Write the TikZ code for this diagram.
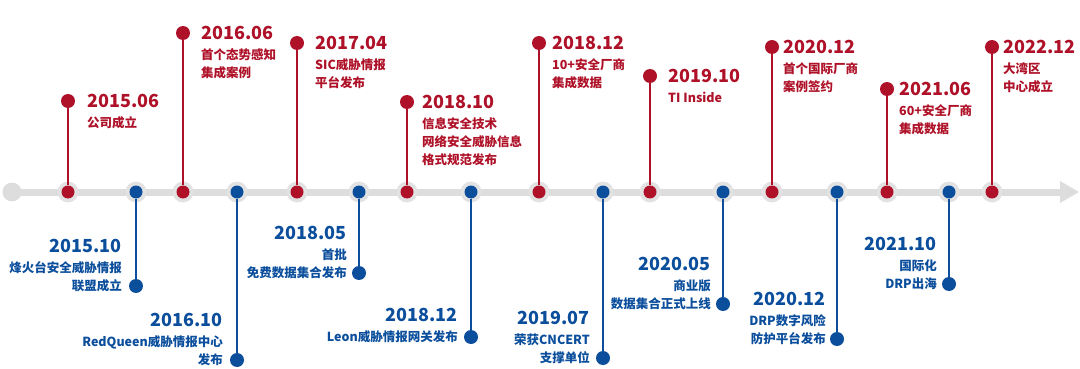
\documentclass[tikz,border=0pt]{standalone}
\usepackage{fontspec}
\setmainfont{Noto Sans CJK SC}
\usetikzlibrary{calc}
\definecolor{myred}{HTML}{AE1128}
\definecolor{myblue}{HTML}{0B4E9C}
\definecolor{axisgray}{HTML}{DDDDDD}
\definecolor{halogray}{HTML}{E2E2E2}
\tikzset{
  axisline/.style={draw=axisgray, line width=7pt},
  halo/.style={circle, fill=halogray, minimum size=21pt, inner sep=0pt},
  rdot/.style={circle, fill=myred, minimum size=13pt, inner sep=0pt},
  bdot/.style={circle, fill=myblue, minimum size=13pt, inner sep=0pt},
  rstem/.style={draw=myred, line width=2pt},
  bstem/.style={draw=myblue, line width=2pt},
  datefont/.style={font=\bfseries\fontsize{18}{18}\selectfont, inner sep=0pt},
  linefont/.style={font=\bfseries\fontsize{12.5}{12.5}\selectfont, inner sep=0pt},
  rdate/.style={datefont, text=myred, anchor=base west},
  rtext/.style={linefont, text=myred, anchor=base west},
  bdate/.style={datefont, text=myblue, anchor=base east},
  btext/.style={linefont, text=myblue, anchor=base east},
}
% red event: name, x, y of top dot, text left x, date, lines
\newcommand\RedEvent[6]{%
  \node[halo] (#1h) at (#2,192) {};
  \node[rdot] (#1a) at (#2,192) {};
  \node[rdot, minimum size=14pt] (#1t) at (#2,#3) {};
  \draw[rstem] (#1t) -- (#1a);
  \node[rdate] (#1d) at (#4,#3+6.2) {#5};
  \foreach \l [count=\i] in {#6}
    \node[rtext] (#1l\i) at (#4,#3+4.75+22+18*\i-18) {\l};
}
% blue event: name, x, y of bottom dot, text right x, date, number of lines, lines
\newcommand\BlueEvent[7]{%
  \node[halo] (#1h) at (#2,192) {};
  \node[bdot] (#1a) at (#2,192) {};
  \node[bdot, minimum size=14pt] (#1t) at (#2,#3) {};
  \draw[bstem] (#1a) -- (#1t);
  \node[bdate] (#1d) at (#4,#3-18*#6+18-15.8) {#5};
  \foreach \l [count=\i] in {#7}
    \node[btext] (#1l\i) at (#4,#3+4.75-18*#6+18*\i) {\l};
}
\begin{document}
\begin{tikzpicture}[x=1pt,y=-1pt]
\useasboundingbox (0,0) rectangle (1080,369);
\coordinate (axstart) at (12,192);
\coordinate (axend) at (1062,192);
\draw[axisline] (axstart) -- (axend);
\node[circle, fill=axisgray, minimum size=19pt, inner sep=0pt] (origin) at (axstart) {};
\fill[axisgray] (1060,181) -- (1079,192) -- (1060,203) -- cycle;

\RedEvent{r1}{68}{101}{87}{2015.06}{公司成立}
\RedEvent{r2}{183}{33}{201}{2016.06}{首个态势感知,集成案例}
\RedEvent{r3}{297}{43}{315}{2017.04}{SIC威胁情报,平台发布}
\RedEvent{r4}{407}{102}{422}{2018.10}{信息安全技术,网络安全威胁信息,格式规范发布}
\RedEvent{r5}{539}{43}{552}{2018.12}{10+安全厂商,集成数据}
\RedEvent{r6}{650}{76}{668}{2019.10}{TI Inside}
\RedEvent{r7}{772}{47}{783}{2020.12}{首个国际厂商,案例签约}
\RedEvent{r8}{887}{89}{899}{2021.06}{60+安全厂商,集成数据}
\RedEvent{r9}{992}{47}{1003}{2022.12}{大湾区,中心成立}

\BlueEvent{b1}{136}{286}{122}{2015.10}{2}{烽火台安全威胁情报,联盟成立}
\BlueEvent{b2}{237}{360}{223}{2016.10}{2}{RedQueen威胁情报中心,发布}
\BlueEvent{b3}{359}{273}{347}{2018.05}{2}{首批,免费数据集合发布}
\BlueEvent{b4}{471}{337}{458}{2018.12}{1}{Leon威胁情报网关发布}
\BlueEvent{b5}{603}{358}{590}{2019.07}{2}{荣获CNCERT,支撑单位}
\BlueEvent{b6}{723}{304}{711}{2020.05}{2}{商业版,数据集合正式上线}
\BlueEvent{b7}{837}{339}{826}{2020.12}{2}{DRP数字风险,防护平台发布}
\BlueEvent{b8}{949}{284}{937}{2021.10}{2}{国际化,DRP出海}
\end{tikzpicture}
\end{document}
